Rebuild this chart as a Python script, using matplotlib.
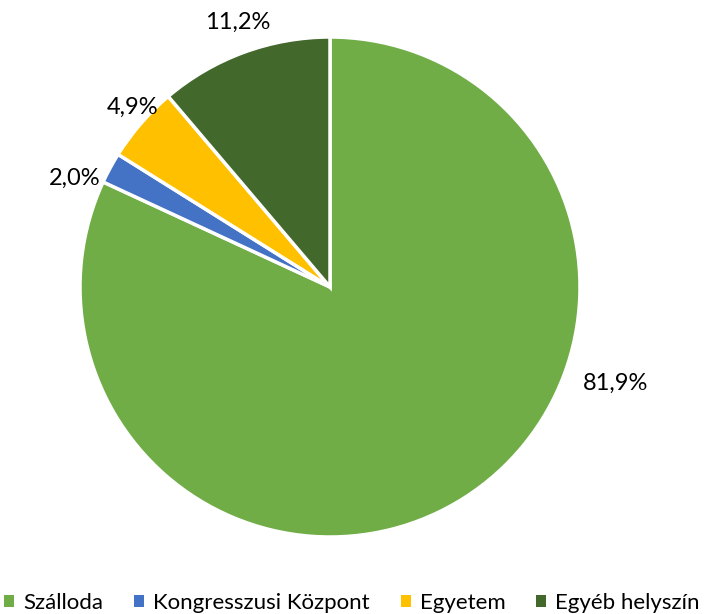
import matplotlib
matplotlib.use("Agg")
import matplotlib.pyplot as plt
from matplotlib.patches import Patch

# Adatok
kategoriak = ["Szálloda", "Kongresszusi Központ", "Egyetem", "Egyéb helyszín"]
ertekek = [81.9, 2.0, 4.9, 11.2]
cimkek = ["81,9%", "2,0%", "4,9%", "11,2%"]
szinek = ["#70AD47", "#4472C4", "#FFC000", "#43682B"]

# cimkek helye (adat koordinatak, sugar = 1)
cimke_hely = [(1.144, -0.384), (-1.02, 0.436), (-0.788, 0.72), (-0.368, 1.06)]

plt.rcParams['font.family'] = ['Lato', 'DejaVu Sans']

fig = plt.figure(figsize=(7.04, 6.14), dpi=100)
ax = fig.add_axes([0, 0, 1, 1])

wedges, _ = ax.pie(ertekek, colors=szinek, startangle=90, counterclock=False,
                   radius=1.0, wedgeprops=dict(edgecolor="white", linewidth=2.5))

for (x, y), txt in zip(cimke_hely, cimkek):
    ax.text(x, y, txt, ha="center", va="center", fontsize=17, color="#000000")

R = 250.0
ax.set_aspect("auto")
ax.set_xlim(-330 / R, (704 - 330) / R)
ax.set_ylim(-(614 - 287) / R, 287 / R)
ax.axis("off")

handles = [Patch(facecolor=c, edgecolor="none") for c in szinek]
fig.legend(handles, kategoriak, loc="center", bbox_to_anchor=(0.5, 1 - 603 / 614),
           ncol=4, frameon=False, fontsize=16, handlelength=0.45, handleheight=0.45,
           handletextpad=0.4, columnspacing=1.4)

fig.savefig("out.png", dpi=100)
